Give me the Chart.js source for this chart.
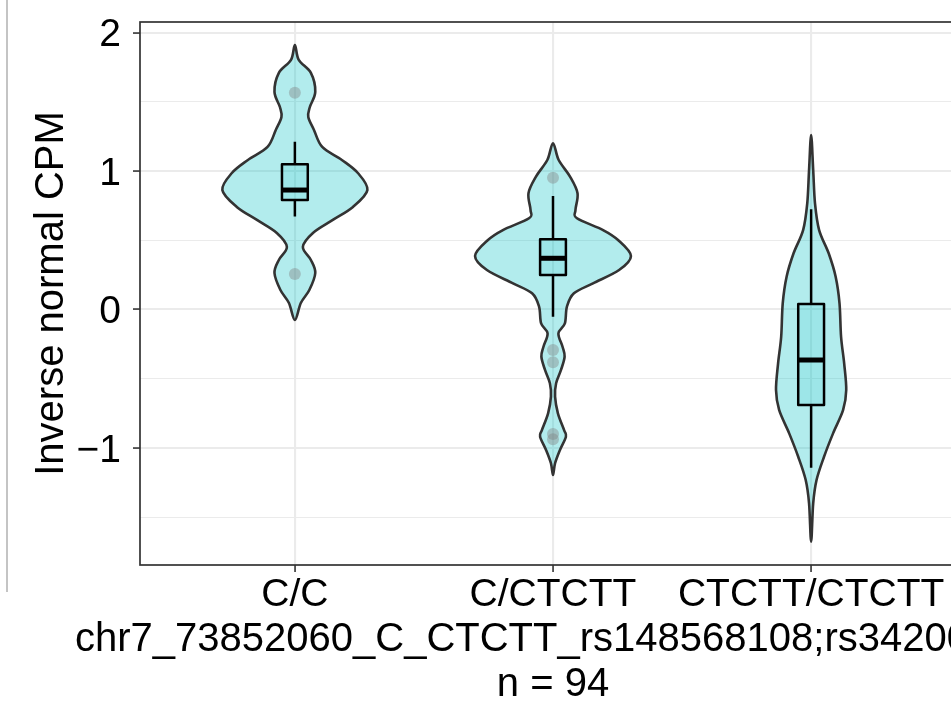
<!DOCTYPE html>
<html>
<head>
<meta charset="utf-8">
<script src="https://cdn.jsdelivr.net/npm/chart.js@4"></script>
<style>
  html, body { margin: 0; padding: 0; background: #fff; overflow: hidden; }
  #wrap { position: relative; width: 951px; height: 701px; overflow: hidden; }
  #cv { position: absolute; left: 0; top: 0; }
  #edge { position: absolute; left: 6px; top: 0; width: 2px; height: 592px; background: #c4c4c4; }
</style>
</head>
<body>
<div id="wrap">
  <canvas id="cv" width="970" height="701"></canvas>
  <div id="edge"></div>
</div>
<script>
// Категорії та підписи
const categories = ['C/C', 'C/CTCTT', 'CTCTT/CTCTT'];
const xTitleLine1 = 'chr7_73852060_C_CTCTT_rs148568108;rs34200';
const xTitleLine2 = 'n = 94';
const yTitle = 'Inverse normal CPM';
const yMajor = [-1, 0, 1, 2];
const yMajorLabels = ['\u22121', '0', '1', '2'];
const yMinor = [-1.5, -0.5, 0.5, 1.5];

// Профілі скрипок: значення y та напівширина (в одиницях осі x)
const violinCC_y = [1.911, 1.803, 1.709, 1.572, 1.463, 1.391, 1.297, 1.174, 1.080, 0.986, 0.863, 0.741, 0.647, 0.553, 0.452, 0.358, 0.264, 0.141, 0.047, -0.076];
const violinCC_w = [0, 0.015, 0.062, 0.079, 0.058, 0.052, 0.074, 0.106, 0.182, 0.244, 0.281, 0.225, 0.147, 0.070, 0.031, 0.062, 0.079, 0.056, 0.023, 0];

const violinHet_y = [1.201, 1.080, 0.960, 0.840, 0.719, 0.659, 0.574, 0.502, 0.387, 0.285, 0.189, 0.117, 0.020, -0.100, -0.172, -0.269, -0.341, -0.437, -0.533, -0.630, -0.750, -0.871, -0.919, -1.015, -1.111, -1.196];
const violinHet_w = [0, 0.022, 0.066, 0.095, 0.087, 0.093, 0.194, 0.252, 0.302, 0.256, 0.155, 0.081, 0.054, 0.046, 0.021, 0.037, 0.045, 0.031, 0.012, 0.008, 0.019, 0.043, 0.050, 0.027, 0.008, 0];

const violinHom_y = [1.261, 1.008, 0.767, 0.574, 0.406, 0.237, 0.045, -0.197, -0.389, -0.582, -0.726, -0.895, -1.064, -1.232, -1.400, -1.678];
const violinHom_w = [0, 0.008, 0.015, 0.031, 0.068, 0.095, 0.110, 0.116, 0.128, 0.136, 0.124, 0.085, 0.050, 0.021, 0.008, 0];

const violinY = [violinCC_y, violinHet_y, violinHom_y];
const violinW = [violinCC_w, violinHet_w, violinHom_w];

// Боксплоти
const boxLow = [0.671, -0.052, -1.143];
const boxQ1 = [0.791, 0.249, -0.690];
const boxMedian = [0.863, 0.370, -0.365];
const boxQ3 = [1.049, 0.507, 0.040];
const boxHigh = [1.212, 0.820, 0.724];

// Викиди
const outlierCat = [1, 1, 2, 2, 2, 2, 2];
const outlierVal = [1.566, 0.256, 0.952, -0.293, -0.382, -0.900, -0.938];

const fontFamily = '"Liberation Sans", Arial, Helvetica, sans-serif';

function smoothClosed(ctx, pts) {
  const n = pts.length;
  ctx.moveTo(pts[0].x, pts[0].y);
  for (let i = 0; i < n; i++) {
    const p0 = pts[(i - 1 + n) % n], p1 = pts[i], p2 = pts[(i + 1) % n], p3 = pts[(i + 2) % n];
    ctx.bezierCurveTo(
      p1.x + (p2.x - p0.x) / 6, p1.y + (p2.y - p0.y) / 6,
      p2.x - (p3.x - p1.x) / 6, p2.y - (p3.y - p1.y) / 6,
      p2.x, p2.y);
  }
  ctx.closePath();
}

const violinPlugin = {
  id: 'violins',
  beforeDatasetsDraw(chart) {
    const ctx = chart.ctx;
    const xs = chart.scales.x, ys = chart.scales.y;
    ctx.save();
    violinY.forEach((yv, i) => {
      const cx = i + 1;
      const w = violinW[i];
      const right = yv.map((v, j) => ({ x: xs.getPixelForValue(cx + w[j]), y: ys.getPixelForValue(v) }));
      const left = [];
      for (let j = yv.length - 2; j >= 1; j--) {
        left.push({ x: xs.getPixelForValue(cx - w[j]), y: ys.getPixelForValue(yv[j]) });
      }
      ctx.beginPath();
      smoothClosed(ctx, right.concat(left));
      ctx.fillStyle = 'rgba(0, 191, 196, 0.3)';
      ctx.fill();
      ctx.lineWidth = 2.6;
      ctx.strokeStyle = '#333333';
      ctx.lineJoin = 'round';
      ctx.stroke();
    });

    // боксплоти
    categories.forEach((c, i) => {
      const cx = i + 1;
      const x0 = xs.getPixelForValue(cx - 0.05), x1 = xs.getPixelForValue(cx + 0.05);
      const xm = xs.getPixelForValue(cx);
      ctx.strokeStyle = '#000';
      ctx.lineWidth = 2.5;
      ctx.lineCap = 'butt';
      ctx.beginPath();
      ctx.moveTo(xm, ys.getPixelForValue(boxHigh[i]));
      ctx.lineTo(xm, ys.getPixelForValue(boxQ3[i]));
      ctx.moveTo(xm, ys.getPixelForValue(boxQ1[i]));
      ctx.lineTo(xm, ys.getPixelForValue(boxLow[i]));
      ctx.stroke();
      const yTop = ys.getPixelForValue(boxQ3[i]), yBot = ys.getPixelForValue(boxQ1[i]);
      ctx.fillStyle = 'rgba(0, 191, 196, 0.12)';
      ctx.fillRect(x0, yTop, x1 - x0, yBot - yTop);
      ctx.strokeRect(x0, yTop, x1 - x0, yBot - yTop);
      ctx.lineWidth = 5;
      ctx.beginPath();
      const ym = ys.getPixelForValue(boxMedian[i]);
      ctx.moveTo(x0, ym);
      ctx.lineTo(x1, ym);
      ctx.stroke();
    });
    ctx.restore();
  },
  afterDraw(chart) {
    const ctx = chart.ctx;
    const a = chart.chartArea;
    ctx.save();
    ctx.strokeStyle = '#333333';
    ctx.lineWidth = 1.7;
    ctx.strokeRect(a.left, a.top, a.right - a.left, a.bottom - a.top);
    ctx.fillStyle = '#000';
    ctx.font = '40px ' + fontFamily;
    ctx.textBaseline = 'middle';
    ctx.textAlign = 'left';
    ctx.fillText(xTitleLine1, 75, a.bottom + 75);
    ctx.textAlign = 'center';
    ctx.fillText(xTitleLine2, (a.left + a.right) / 2, a.bottom + 120);
    ctx.restore();
  }
};

const isMajor = v => yMajor.includes(v);

new Chart(document.getElementById('cv'), {
  type: 'scatter',
  data: {
    datasets: [{
      data: outlierCat.map((c, i) => ({ x: c, y: outlierVal[i] })),
      pointRadius: 6,
      pointHoverRadius: 6,
      backgroundColor: 'rgba(127, 127, 127, 0.4)',
      borderWidth: 0
    }]
  },
  options: {
    responsive: false,
    animation: false,
    devicePixelRatio: 1,
    events: [],
    layout: { autoPadding: false, padding: { left: 0, top: 22, right: 4, bottom: 0 } },
    plugins: { legend: { display: false }, tooltip: { enabled: false } },
    scales: {
      x: {
        type: 'linear',
        min: 0.4,
        max: 3.6,
        afterBuildTicks: s => { s.ticks = [1, 2, 3].map(v => ({ value: v })); },
        afterFit: s => { s.height = 136; s.paddingLeft = 0; s.paddingRight = 0; },
        ticks: {
          callback: v => categories[v - 1],
          font: { family: fontFamily, size: 39, lineHeight: 1.2 },
          color: '#000',
          padding: 0,
          maxRotation: 0,
          autoSkip: false
        },
        grid: { color: '#EBEBEB', lineWidth: 2.1, tickColor: '#333333', tickWidth: 1.6, tickLength: 7 },
        border: { display: false }
      },
      y: {
        type: 'linear',
        min: -1.846,
        max: 2.077,
        afterBuildTicks: s => {
          s.ticks = yMinor.concat(yMajor).sort((a, b) => a - b).map(v => ({ value: v }));
        },
        afterFit: s => { s.width = 140; s.paddingTop = 0; s.paddingBottom = 0; },
        ticks: {
          callback: v => { const i = yMajor.indexOf(v); return i >= 0 ? yMajorLabels[i] : ''; },
          font: { family: fontFamily, size: 39, lineHeight: 1.2 },
          color: '#000',
          padding: 12,
          labelOffset: 3,
          autoSkip: false
        },
        grid: {
          color: '#EBEBEB',
          lineWidth: ctx => (ctx.tick && isMajor(ctx.tick.value)) ? 2.1 : 1.1,
          tickColor: ctx => (ctx.tick && isMajor(ctx.tick.value)) ? '#333333' : 'rgba(0,0,0,0)',
          tickWidth: 1.6,
          tickLength: 7
        },
        border: { display: false },
        title: {
          display: true,
          text: yTitle,
          color: '#000',
          font: { family: fontFamily, size: 40, lineHeight: 1.2 },
          padding: { top: 28, bottom: 0 }
        }
      }
    }
  },
  plugins: [violinPlugin]
});
</script>
</body>
</html>
